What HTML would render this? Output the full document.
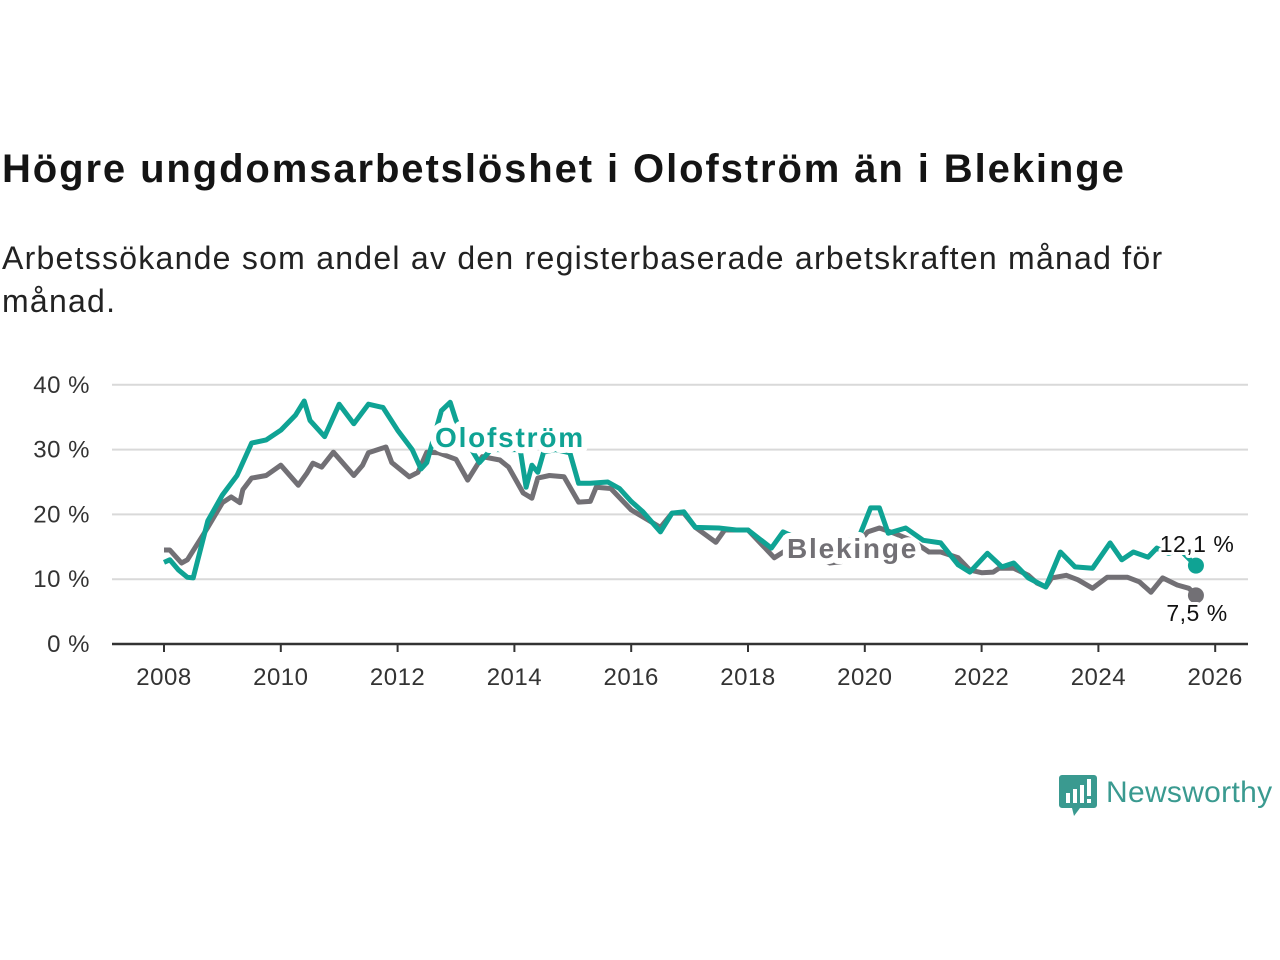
<!DOCTYPE html>
<html><head><meta charset="utf-8">
<style>
html,body{margin:0;padding:0;background:#fff;}
body{width:1280px;height:960px;position:relative;overflow:hidden;font-family:"Liberation Sans",sans-serif;color:#111;}
#title{position:absolute;left:2px;top:147px;font-size:40px;font-weight:bold;margin:0;letter-spacing:1.9px;color:#141414;}
#subtitle{position:absolute;left:2px;top:237px;font-size:32px;line-height:43px;margin:0;color:#222;letter-spacing:1.25px;}
svg{position:absolute;left:0;top:0;}
</style></head>
<body>
<h1 id="title">Högre ungdomsarbetslöshet i Olofström än i Blekinge</h1>
<p id="subtitle">Arbetssökande som andel av den registerbaserade arbetskraften månad för<br>månad.</p>
<svg id="chart" width="1280" height="960"></svg>
<script>
const yTicks=[0,10,20,30,40];
const xTicks=[2008,2010,2012,2014,2016,2018,2020,2022,2024,2026];
const olofT=[2008.0,2008.1,2008.25,2008.4,2008.5,2008.75,2009.0,2009.25,2009.5,2009.75,2010.0,2010.25,2010.4,2010.5,2010.75,2011.0,2011.25,2011.5,2011.75,2012.0,2012.25,2012.4,2012.5,2012.75,2012.9,2013.0,2013.2,2013.4,2013.6,2013.9,2014.1,2014.2,2014.3,2014.4,2014.5,2014.7,2014.95,2015.1,2015.3,2015.6,2015.8,2016.0,2016.2,2016.5,2016.7,2016.9,2017.1,2017.5,2017.8,2018.0,2018.4,2018.6,2018.8,2019.0,2019.5,2019.9,2020.1,2020.25,2020.4,2020.7,2021.0,2021.3,2021.6,2021.8,2022.1,2022.35,2022.55,2022.8,2023.1,2023.35,2023.6,2023.9,2024.2,2024.4,2024.6,2024.85,2025.0,2025.2,2025.4,2025.67];
const olofV=[12.6,13,11.4,10.3,10.2,19,23,26,31,31.5,33,35.3,37.5,34.5,32,37,34,37,36.5,33,30,27,28,36,37.3,34.5,31,28,30,30,30,24.2,27.6,26.5,29.6,30,29.5,24.8,24.8,25,24,22,20.4,17.3,20.2,20.4,18,17.9,17.6,17.6,14.8,17.3,16.5,15.5,15.5,16.5,21,21,17.1,17.9,16,15.6,12.2,11.1,14,11.9,12.5,10.2,8.8,14.2,11.9,11.7,15.6,13,14.2,13.4,14.8,14,14.5,12.1];
const blekT=[2008.0,2008.1,2008.3,2008.4,2008.75,2009.0,2009.15,2009.3,2009.35,2009.5,2009.75,2010.0,2010.3,2010.45,2010.55,2010.7,2010.9,2011.25,2011.4,2011.5,2011.8,2011.9,2012.2,2012.35,2012.5,2012.7,2013.0,2013.2,2013.45,2013.75,2013.9,2014.15,2014.3,2014.4,2014.6,2014.85,2015.1,2015.3,2015.4,2015.65,2016.0,2016.5,2016.7,2016.9,2017.1,2017.45,2017.6,2018.0,2018.45,2018.75,2018.9,2019.4,2019.6,2020.05,2020.25,2020.5,2020.8,2021.1,2021.3,2021.6,2021.8,2022.0,2022.2,2022.3,2022.55,2022.8,2022.95,2023.1,2023.2,2023.45,2023.65,2023.9,2024.15,2024.5,2024.7,2024.9,2025.1,2025.35,2025.55,2025.67];
const blekV=[14.5,14.5,12.5,13,18,21.8,22.7,21.8,23.8,25.6,26,27.6,24.5,26.4,27.9,27.3,29.6,26,27.6,29.5,30.4,28,25.8,26.5,29.6,29.5,28.5,25.3,28.9,28.4,27.3,23.3,22.5,25.6,26,25.8,21.9,22,24.2,24,20.7,18,20.2,20.2,18,15.7,17.6,17.6,13.3,15,14.8,12.5,12.7,17.3,17.9,17.1,16,14.2,14.2,13.3,11.4,11,11.1,11.7,11.7,10.6,9.4,8.8,10.2,10.6,9.9,8.6,10.3,10.3,9.6,8,10.2,9.1,8.6,7.5];
const NS="http://www.w3.org/2000/svg";
const svg=document.getElementById('chart');
const X0=112,X1=1248,Y0=644;
function xs(t){return 164+(t-2008)*58.4;}
function ys(v){return Y0-v*6.48;}
function mk(tag,attrs,parent){const e=document.createElementNS(NS,tag);for(const k in attrs)e.setAttribute(k,attrs[k]);(parent||svg).appendChild(e);return e;}
yTicks.forEach(v=>{
  if(v>0){const g=mk('line',{x1:X0,x2:X1,y1:ys(v),y2:ys(v),stroke:'#d9d9d9','stroke-width':2});
  
  }
  const t=mk('text',{x:90,y:ys(v)+8,'text-anchor':'end','font-size':24,fill:'#333','font-family':'Liberation Sans, sans-serif','letter-spacing':0.5});
  t.textContent=v+' %';
  
  
});
xTicks.forEach(yr=>{
  const l=mk('line',{x1:xs(yr),x2:xs(yr),y1:Y0,y2:Y0+8,stroke:'#333','stroke-width':2});
  
  
  const t=mk('text',{x:xs(yr),y:Y0+41,'text-anchor':'middle','font-size':24,fill:'#333','font-family':'Liberation Sans, sans-serif','letter-spacing':0.5});
  t.textContent=yr;
  
  
});
const ax=mk('line',{x1:X0,x2:X1,y1:Y0,y2:Y0,stroke:'#333','stroke-width':2.5});


function line(T,V,color,name){
  const d=T.map((t,i)=>(i?'L':'M')+xs(t).toFixed(1)+','+ys(V[i]).toFixed(1)).join('');
  const p=mk('path',{d:d,fill:'none',stroke:color,'stroke-width':5,'stroke-linejoin':'round'});
  
  
  const n=T.length-1;
  const c=mk('circle',{cx:xs(T[n]),cy:ys(V[n]),r:8,fill:color});
  
  
}
line(blekT,blekV,'#727075','line-blekinge');
line(olofT,olofV,'#0fa394','line-olofstrom');
function label(x,y,txt,color,name,bold,anchor,size){
  const t=mk('text',{x:x,y:y,'text-anchor':anchor||'start','font-size':size||28,'font-weight':bold?'bold':'normal',fill:color,stroke:'#fff','stroke-width':bold?12:6,'paint-order':'stroke','stroke-linejoin':'round','font-family':'Liberation Sans, sans-serif','letter-spacing':bold?1.8:0.5});
  t.textContent=txt;
  
  
}
label(435,447,'Olofström','#0fa394','label-olofstrom',true);
label(787,558,'Blekinge','#727075','label-blekinge',true);
label(1197,552,'12,1 %','#111','value-label-olofstrom',false,'middle',23);
label(1197,621,'7,5 %','#111','value-label-blekinge',false,'middle',23);
const lg=mk('g',{});


mk('path',{d:'M1062,775 h32 a3,3 0 0 1 3,3 v27 a3,3 0 0 1 -3,3 h-14 l-6,8 l-2,-8 h-10 a3,3 0 0 1 -3,-3 v-27 a3,3 0 0 1 3,-3z',fill:'#3a9a90'},lg);
[[1066,793],[1073,789],[1080,785]].forEach(b=>mk('rect',{x:b[0],y:b[1],width:4,height:805-b[1]-2,fill:'#fff'},lg));
mk('rect',{x:1087,y:779,width:4,height:17,fill:'#fff'},lg);
mk('rect',{x:1087,y:799,width:4,height:4,fill:'#fff'},lg);
const lt=mk('text',{x:1106,y:802,'font-size':30,fill:'#3a9a90','font-family':'Liberation Sans, sans-serif','letter-spacing':0.3},lg);
lt.textContent='Newsworthy';
</script>
</body></html>
